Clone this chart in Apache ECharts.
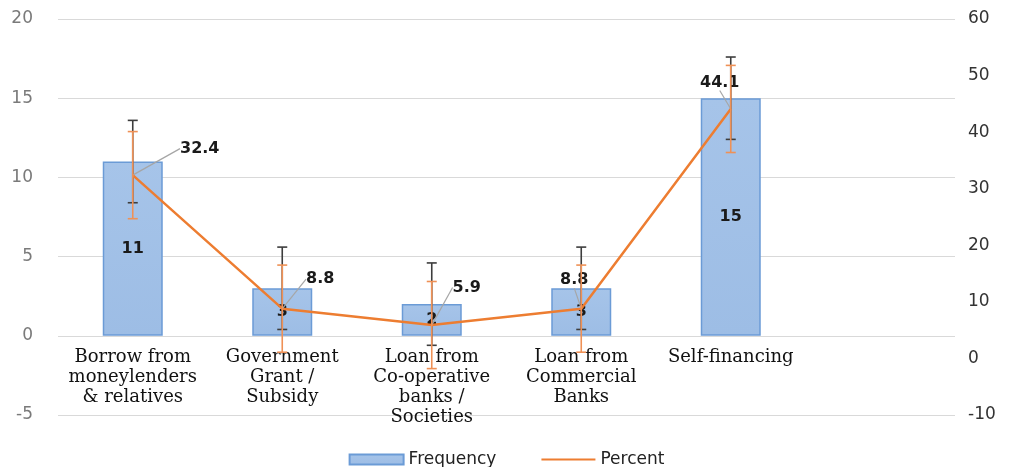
<!DOCTYPE html>
<html>
<head>
<meta charset="utf-8">
<script src="https://cdn.jsdelivr.net/npm/echarts@6/dist/echarts.min.js"></script>
<style>
  html, body { margin: 0; padding: 0; background: #fff; }
  #chart { width: 1013px; height: 467px; }
</style>
</head>
<body>
<div id="chart"></div>
<script>
// Sources of finance: frequency (left axis) and percent (right axis)
const categories = [
  'Borrow from\nmoneylenders\n& relatives',
  'Government\nGrant /\nSubsidy',
  'Loan from\nCo-operative\nbanks /\nSocieties',
  'Loan from\nCommercial\nBanks',
  'Self-financing',
  ''
];
const frequency = [11, 3, 2, 3, 15];
const percent = [32.4, 8.8, 5.9, 8.8, 44.1];
const frequencyError = [2.6, 2.6, 2.6, 2.6, 2.6];
const percentError = [7.7, 7.7, 7.7, 7.7, 7.7];
const leftTicks = { min: -5, max: 20, interval: 5 };
const rightTicks = { min: -10, max: 60, interval: 10 };

// Label nudges for the percent callouts (pixels)
const percentLabelShift = [[67, -13], [38, -16], [35, -24], [-7, -15], [-11, -13]];

const freqErrData = frequency.map((v, i) => [i, v - frequencyError[i], v + frequencyError[i]]);
const pctErrData = percent.map((v, i) => [i, v - percentError[i], v + percentError[i]]);

const SANS = 'DejaVu Sans, sans-serif';
const GRID = { left: 58, right: 58, top: 19, bottom: 52 };
const PLOT_H = 467 - GRID.top - GRID.bottom;
// category names hang just under the zero line of the left axis
const zeroFromBottom = PLOT_H * (0 - leftTicks.min) / (leftTicks.max - leftTicks.min);

function errorBarRenderer(color, capHalf) {
  return function (params, api) {
    const i = api.value(0);
    const lo = api.coord([i, api.value(1)]);
    const hi = api.coord([i, api.value(2)]);
    const style = { stroke: color, lineWidth: 1.6 };
    return {
      type: 'group',
      children: [
        { type: 'line', shape: { x1: lo[0], y1: lo[1], x2: hi[0], y2: hi[1] }, style },
        { type: 'line', shape: { x1: hi[0] - capHalf, y1: hi[1], x2: hi[0] + capHalf, y2: hi[1] }, style },
        { type: 'line', shape: { x1: lo[0] - capHalf, y1: lo[1], x2: lo[0] + capHalf, y2: lo[1] }, style }
      ]
    };
  };
}

const chart = echarts.init(document.getElementById('chart'), null, { renderer: 'canvas' });
chart.setOption({
  animation: false,
  backgroundColor: '#ffffff',
  grid: Object.assign({ containLabel: false, outerBoundsMode: 'none' }, GRID),
  legend: {
    top: 446,
    left: 'center',
    itemWidth: 54,
    itemHeight: 10,
    itemGap: 44,
    data: [
      { name: 'Frequency', icon: 'rect' },
      { name: 'Percent', itemStyle: { opacity: 0 } }
    ],
    textStyle: { fontFamily: SANS, fontSize: 17, color: '#222' }
  },
  xAxis: {
    type: 'category',
    data: categories,
    axisTick: { show: false },
    axisLine: { show: false, onZero: false },
    axisLabel: {
      interval: 0,
      margin: 12 - zeroFromBottom,
      fontFamily: 'DejaVu Serif, serif',
      fontSize: 18,
      lineHeight: 20,
      color: '#111'
    }
  },
  yAxis: [
    {
      type: 'value',
      min: leftTicks.min, max: leftTicks.max, interval: leftTicks.interval,
      axisLine: { show: false },
      axisTick: { show: false },
      splitLine: { lineStyle: { color: '#d9d9d9', width: 1.2 } },
      axisLabel: { fontFamily: SANS, fontSize: 17, color: '#7a7a7a', margin: 25 }
    },
    {
      type: 'value',
      min: rightTicks.min, max: rightTicks.max, interval: rightTicks.interval,
      axisLine: { show: false },
      axisTick: { show: false },
      splitLine: { show: false },
      axisLabel: { fontFamily: SANS, fontSize: 17, color: '#333', margin: 13 }
    }
  ],
  series: [
    {
      name: 'Frequency',
      type: 'bar',
      yAxisIndex: 0,
      barWidth: 60,
      data: frequency,
      itemStyle: {
        color: new echarts.graphic.LinearGradient(0, 0, 0, 1, [
          { offset: 0, color: '#a6c4e9' },
          { offset: 1, color: '#9dbde5' }
        ]),
        borderColor: '#6b9bd6',
        borderWidth: 1.5
      },
      label: {
        show: true,
        position: 'inside',
        fontFamily: SANS,
        fontSize: 16,
        fontWeight: 'bold',
        color: '#1a1a1a'
      },
      z: 1
    },
    {
      name: 'FrequencyError',
      type: 'custom',
      yAxisIndex: 0,
      data: freqErrData,
      encode: { x: 0, y: [1, 2] },
      renderItem: errorBarRenderer('#3d3d3d', 5),
      silent: true,
      z: 3
    },
    {
      name: 'Percent',
      type: 'line',
      yAxisIndex: 1,
      data: percent,
      symbol: 'circle',
      symbolSize: 1,
      showSymbol: true,
      lineStyle: { color: '#ed7d31', width: 2.5 },
      itemStyle: { color: '#ed7d31' },
      label: {
        show: true,
        position: 'top',
        fontFamily: SANS,
        fontSize: 16,
        fontWeight: 'bold',
        color: '#1a1a1a'
      },
      labelLayout: function (p) {
        const s = percentLabelShift[p.dataIndex] || [0, 0];
        return { dx: s[0], dy: s[1] };
      },
      labelLine: { show: true, lineStyle: { color: '#a6a6a6', width: 1.2 } },
      z: 4
    },
    {
      name: 'PercentError',
      type: 'custom',
      yAxisIndex: 1,
      data: pctErrData,
      encode: { x: 0, y: [1, 2] },
      renderItem: errorBarRenderer('#ef9156', 5),
      silent: true,
      z: 5
    }
  ]
});
</script>
</body>
</html>
